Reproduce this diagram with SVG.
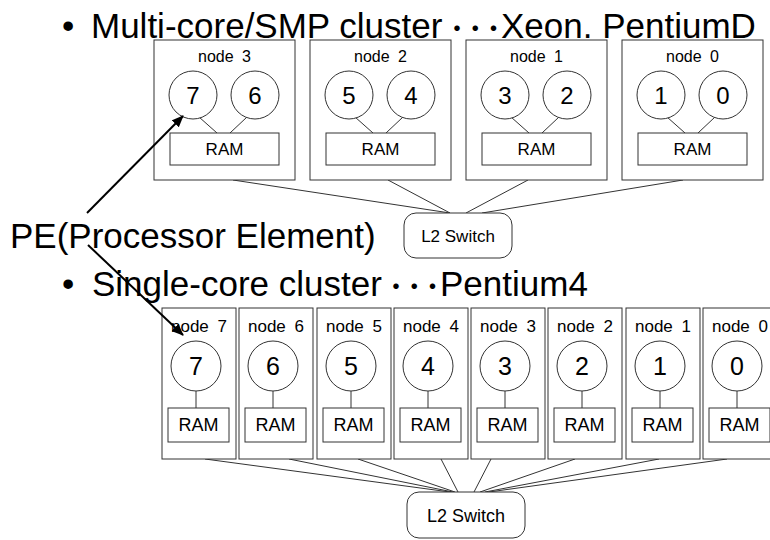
<svg xmlns="http://www.w3.org/2000/svg" width="770" height="540" viewBox="0 0 770 540">
<defs>
<marker id="ah" markerWidth="12" markerHeight="10" refX="11" refY="5" orient="auto" markerUnits="userSpaceOnUse">
<path d="M0,0 L12,5 L0,10 Z" fill="#000"/>
</marker>
<style>
.box{fill:#fff;stroke:#333;stroke-width:1}
.pe{fill:#fff;stroke:#333;stroke-width:1}
.ram{fill:#fff;stroke:#333;stroke-width:1}
.ln{stroke:#333;stroke-width:1;fill:none}
.t{font-family:"Liberation Sans","Noto Sans CJK JP",sans-serif;fill:#000}
.big{font-size:35px}
.dots{font-family:"Noto Sans CJK JP",sans-serif;font-size:26px;letter-spacing:-7.7px}
.lbl{font-size:16px;text-anchor:middle;word-spacing:4px}
.dg{font-size:24px;text-anchor:middle}
.dgb{font-size:25px;text-anchor:middle}
.rm{font-size:17px;text-anchor:middle}
.rmb{font-size:18px;text-anchor:middle}
.lblb{font-size:17px;text-anchor:middle;word-spacing:4px}
.arr{stroke:#000;stroke-width:2;fill:none;marker-end:url(#ah)}
</style>
</defs>
<rect width="770" height="540" fill="#fff"/>

<text class="t big" y="38"><tspan x="62">•</tspan><tspan x="91">Multi-core/SMP cluster</tspan><tspan class="dots" x="444">・・・</tspan><tspan x="501">Xeon. PentiumD</tspan></text>

<g id="connectors">
<line class="ln" x1="233" y1="180" x2="450" y2="213"/>
<line class="ln" x1="388" y1="180" x2="450" y2="213"/>
<line class="ln" x1="528" y1="180" x2="466" y2="213"/>
<line class="ln" x1="683" y1="180" x2="482" y2="213"/>
<line class="ln" x1="205" y1="459" x2="450" y2="492"/>
<line class="ln" x1="289" y1="459" x2="453" y2="492"/>
<line class="ln" x1="358" y1="459" x2="455" y2="492"/>
<line class="ln" x1="441" y1="459" x2="458" y2="492"/>
<line class="ln" x1="491" y1="459" x2="474" y2="492"/>
<line class="ln" x1="575" y1="459" x2="480" y2="492"/>
<line class="ln" x1="659" y1="459" x2="485" y2="492"/>
<line class="ln" x1="727" y1="459" x2="489" y2="492"/>
</g>

<g id="top-node3">
<rect class="box" x="154" y="40" width="141" height="140"/>
<text class="t lbl" x="224.5" y="62">node 3</text>
<line class="ln" x1="199" y1="117" x2="217" y2="133"/><line class="ln" x1="247" y1="117" x2="230" y2="133"/>
<circle class="pe" cx="193" cy="95" r="24"/><circle class="pe" cx="255" cy="95" r="24"/>
<text class="t dg" x="193" y="103.5">7</text><text class="t dg" x="255" y="103.5">6</text>
<rect class="ram" x="170" y="133" width="109" height="32"/>
<text class="t rm" x="224.5" y="155">RAM</text>
</g>
<g id="top-node2">
<rect class="box" x="310" y="40" width="141" height="140"/>
<text class="t lbl" x="380.5" y="62">node 2</text>
<line class="ln" x1="355" y1="117" x2="373" y2="133"/><line class="ln" x1="403" y1="117" x2="386" y2="133"/>
<circle class="pe" cx="349" cy="95" r="24"/><circle class="pe" cx="411" cy="95" r="24"/>
<text class="t dg" x="349" y="103.5">5</text><text class="t dg" x="411" y="103.5">4</text>
<rect class="ram" x="326" y="133" width="109" height="32"/>
<text class="t rm" x="380.5" y="155">RAM</text>
</g>
<g id="top-node1">
<rect class="box" x="466" y="40" width="141" height="140"/>
<text class="t lbl" x="536.5" y="62">node 1</text>
<line class="ln" x1="511" y1="117" x2="529" y2="133"/><line class="ln" x1="559" y1="117" x2="542" y2="133"/>
<circle class="pe" cx="505" cy="95" r="24"/><circle class="pe" cx="567" cy="95" r="24"/>
<text class="t dg" x="505" y="103.5">3</text><text class="t dg" x="567" y="103.5">2</text>
<rect class="ram" x="482" y="133" width="109" height="32"/>
<text class="t rm" x="536.5" y="155">RAM</text>
</g>
<g id="top-node0">
<rect class="box" x="622" y="40" width="141" height="140"/>
<text class="t lbl" x="692.5" y="62">node 0</text>
<line class="ln" x1="667" y1="117" x2="685" y2="133"/><line class="ln" x1="715" y1="117" x2="698" y2="133"/>
<circle class="pe" cx="661" cy="95" r="24"/><circle class="pe" cx="723" cy="95" r="24"/>
<text class="t dg" x="661" y="103.5">1</text><text class="t dg" x="723" y="103.5">0</text>
<rect class="ram" x="638" y="133" width="109" height="32"/>
<text class="t rm" x="692.5" y="155">RAM</text>
</g>

<g id="top-switch">
<rect class="box" x="404" y="213" width="108" height="45" rx="12"/>
<text class="t" x="458" y="242" font-size="17" text-anchor="middle">L2 Switch</text>
</g>

<text class="t big" x="10" y="248">PE(Processor Element)</text>

<text class="t big" y="296"><tspan x="62">•</tspan><tspan x="92">Single-core cluster</tspan><tspan class="dots" x="383">・・・</tspan><tspan x="440">Pentium4</tspan></text>

<g id="b-node7">
<rect class="box" x="162" y="308" width="74" height="151"/>
<text class="t lblb" x="199" y="332">node 7</text>
<line class="ln" x1="196" y1="391" x2="196" y2="408"/>
<circle class="pe" cx="196" cy="366" r="25"/>
<text class="t dgb" x="196" y="375">7</text>
<rect class="ram" x="168" y="408" width="61" height="34"/>
<text class="t rmb" x="198.5" y="431">RAM</text>
</g>
<g id="b-node6">
<rect class="box" x="239" y="308" width="74" height="151"/>
<text class="t lblb" x="276" y="332">node 6</text>
<line class="ln" x1="273" y1="391" x2="273" y2="408"/>
<circle class="pe" cx="273" cy="366" r="25"/>
<text class="t dgb" x="273" y="375">6</text>
<rect class="ram" x="245" y="408" width="61" height="34"/>
<text class="t rmb" x="275.5" y="431">RAM</text>
</g>
<g id="b-node5">
<rect class="box" x="317" y="308" width="74" height="151"/>
<text class="t lblb" x="354" y="332">node 5</text>
<line class="ln" x1="351" y1="391" x2="351" y2="408"/>
<circle class="pe" cx="351" cy="366" r="25"/>
<text class="t dgb" x="351" y="375">5</text>
<rect class="ram" x="323" y="408" width="61" height="34"/>
<text class="t rmb" x="353.5" y="431">RAM</text>
</g>
<g id="b-node4">
<rect class="box" x="394" y="308" width="74" height="151"/>
<text class="t lblb" x="431" y="332">node 4</text>
<line class="ln" x1="428" y1="391" x2="428" y2="408"/>
<circle class="pe" cx="428" cy="366" r="25"/>
<text class="t dgb" x="428" y="375">4</text>
<rect class="ram" x="400" y="408" width="61" height="34"/>
<text class="t rmb" x="430.5" y="431">RAM</text>
</g>
<g id="b-node3">
<rect class="box" x="471" y="308" width="74" height="151"/>
<text class="t lblb" x="508" y="332">node 3</text>
<line class="ln" x1="505" y1="391" x2="505" y2="408"/>
<circle class="pe" cx="505" cy="366" r="25"/>
<text class="t dgb" x="505" y="375">3</text>
<rect class="ram" x="477" y="408" width="61" height="34"/>
<text class="t rmb" x="507.5" y="431">RAM</text>
</g>
<g id="b-node2">
<rect class="box" x="548" y="308" width="74" height="151"/>
<text class="t lblb" x="585" y="332">node 2</text>
<line class="ln" x1="582" y1="391" x2="582" y2="408"/>
<circle class="pe" cx="582" cy="366" r="25"/>
<text class="t dgb" x="582" y="375">2</text>
<rect class="ram" x="554" y="408" width="61" height="34"/>
<text class="t rmb" x="584.5" y="431">RAM</text>
</g>
<g id="b-node1">
<rect class="box" x="626" y="308" width="74" height="151"/>
<text class="t lblb" x="663" y="332">node 1</text>
<line class="ln" x1="660" y1="391" x2="660" y2="408"/>
<circle class="pe" cx="660" cy="366" r="25"/>
<text class="t dgb" x="660" y="375">1</text>
<rect class="ram" x="632" y="408" width="61" height="34"/>
<text class="t rmb" x="662.5" y="431">RAM</text>
</g>
<g id="b-node0">
<rect class="box" x="703" y="308" width="74" height="151"/>
<text class="t lblb" x="740" y="332">node 0</text>
<line class="ln" x1="737" y1="391" x2="737" y2="408"/>
<circle class="pe" cx="737" cy="366" r="25"/>
<text class="t dgb" x="737" y="375">0</text>
<rect class="ram" x="709" y="408" width="61" height="34"/>
<text class="t rmb" x="739.5" y="431">RAM</text>
</g>

<g id="bottom-switch">
<rect class="box" x="407" y="492" width="118" height="46" rx="12"/>
<text class="t" x="466" y="522" font-size="18" text-anchor="middle">L2 Switch</text>
</g>

<g id="pe-arrows">
<line class="arr" x1="87" y1="213" x2="183" y2="116"/>
<line class="arr" x1="88" y1="245" x2="183" y2="335"/>
</g>
</svg>
